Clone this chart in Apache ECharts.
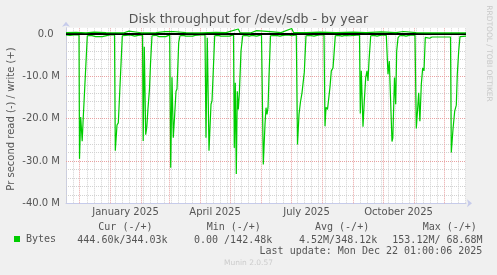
<!DOCTYPE html>
<html><head><meta charset="utf-8">
<script src="https://cdn.jsdelivr.net/npm/echarts@6/dist/echarts.min.js"></script>
<style>html,body{margin:0;padding:0;background:#f0f0f0;}#c{width:497px;height:275px;}</style>
</head><body><div id="c"></div>
<script>
// ---- data (x = day offset from graph start, y = MB/s; read negative, write positive)
const readPoints = [
[0,-0.2],[4,-0.3],[8,-0.2],[13,-0.2],
[13.5,-29.5],[14.7,-19.6],[16.2,-25.3],[17,-21],[21.3,-0.4],
[25,-0.3],[29.7,-0.6],[31,-0.3],[36.3,-0.6],[38,-0.3],[44,-0.2],[48.5,-0.2],
[49.3,-27.6],[51,-21.5],[52.3,-21],[56.3,-0.4],
[60,-0.3],[64,-0.2],[68.7,-0.5],[72,-0.3],[76.5,-0.2],
[77.2,-25.3],[78.3,-3],[79.7,-23.8],[80.8,-22],[82,-17.5],[83.5,-13],[84.5,-7],[86,-0.4],
[90,-0.3],[93,-0.6],[95,-0.3],[99.7,-0.6],[101,-0.3],[103.7,-0.2],
[104.7,-31.6],[106,-10.2],[107.3,-24.5],[108.7,-19],[110,-13.5],[111,-13],[112.7,-2],[114,-0.4],
[117,-0.3],[120,-0.5],[122,-0.3],[126.7,-0.5],[129,-0.3],[135,-0.2],[139,-0.2],
[140,-24.5],[141.3,-0.9],[143,-27.6],[145,-16.6],[146,-15.8],[147,-10.3],[148.7,-0.4],
[152,-0.3],[155,-0.5],[157,-0.3],[163.3,-0.5],[165,-0.3],[167.5,-0.2],
[168.3,-26.9],[169.3,-11.5],[170.3,-33.1],[171.3,-13.5],[172.3,-17.8],[173.3,-14.3],[175,-4],[176.7,-0.4],
[180,-0.3],[183.3,-0.5],[186,-0.3],[190.7,-0.5],[192,-0.3],[195.5,-0.2],
[197.3,-30.8],[199,-21.3],[200,-17.4],[201,-19],[202,-17.4],[203,-10],[204.5,-0.4],
[210,-0.3],[214,-0.5],[217,-0.3],[222,-0.2],[226,-0.4],[230.3,-0.2],
[231.5,-26.1],[233,-19],[234.5,-16],[236,-13.9],[237,-14],[238.3,-9],[240,-0.4],
[244,-0.3],[248,-0.5],[251,-0.3],[254,-0.2],[258,-0.2],
[259,-21.8],[260,-17.3],[261.5,-17.8],[262.7,-17.4],[264,-12.5],[265.3,-8.7],[267,-8],[268,-4.8],[269.3,-0.4],
[273,-0.3],[276,-0.5],[279,-0.3],[284,-0.4],[288,-0.3],[293.5,-0.2],
[294.3,-18.8],[295.3,-8.7],[297,-21.9],[298.3,-15.8],[299.7,-10.3],[301,-8.7],[302,-11.1],[303,-6.4],[304.7,-0.4],
[308,-0.3],[311,-0.5],[314,-0.3],[317,-0.2],[320.3,-0.3],
[322,-9.5],[323.3,-6.4],[326,-25.4],[326.8,-24.6],[328.5,-10.3],[329.7,-16.6],[330.7,-4],[332,-0.9],[333.5,-0.4],
[337,-0.3],[340,-0.5],[343,-0.3],[346,-0.2],[349,-0.3],
[350.3,-22.3],[351.3,-22.5],[352.7,-13.9],[353.9,-20.6],[355.3,-11.9],[356.7,-8],[358,-8.7],[359.3,-0.8],
[363.7,-1.0],[366,-0.7],[372,-0.7],[378,-0.7],[384.5,-0.7],
[385.3,-28],[387,-22.5],[388.7,-18.2],[390.3,-16.8],[391.3,-9.5],[392.7,-4],[394,-0.6],[400,-0.5]
];
const writePoints = [
[0,0.35],[10,0.4],[20,0.3],[28,0.45],[40,0.35],[58,0.3],[63,0.7],[65,0.35],[75,0.3],[90,0.35],
[99,0.55],[101,0.35],[107,0.6],[109,0.35],[120,0.35],[135,0.3],[150,0.4],[160,0.35],[172.3,1.2],[174,0.35],
[185,0.3],[190.7,0.8],[192.5,0.35],[207,0.5],[215,0.35],[225.7,1.3],[227.5,0.35],[240,0.35],[254,0.45],[270,0.35],
[287,0.45],[300,0.35],[315,0.5],[330,0.35],[337.3,0.6],[339,0.35],[350,0.35],[360,0.3],[380,0.3],[400,0.3]
];
const yMajorTicks = [0, -10, -20, -30, -40];
const yMinorTicks = [-2,-4,-6,-8,-12,-14,-16,-18,-22,-24,-26,-28,-32,-34,-36,-38];
const monthStarts = ['2024-12-01','2025-01-01','2025-02-01','2025-03-01','2025-04-01','2025-05-01','2025-06-01',
  '2025-07-01','2025-08-01','2025-09-01','2025-10-01','2025-11-01','2025-12-01'];
const labelMonths = [['2025-01-01','2025-02-01'],['2025-04-01','2025-05-01'],['2025-07-01','2025-08-01'],['2025-10-01','2025-11-01']];
const labelTexts = ['January 2025','April 2025','July 2025','October 2025'];
const legendHeader = ['Cur (-/+)','Min (-/+)','Avg (-/+)','Max (-/+)'];
const legendValues = ['444.60k/344.03k','0.00 /142.48k','4.52M/348.12k','153.12M/ 68.68M'];
const lastUpdate = 'Last update: Mon Dec 22 01:00:06 2025';

const startTime = Date.UTC(2024,10,17,23);
const DAY = 86400000;
const dayOf = s => (Date.parse(s + 'T00:00:00Z') - startTime) / DAY;
const monthDays = monthStarts.map(dayOf);
const labelPos = labelMonths.map(p => (dayOf(p[0]) + dayOf(p[1])) / 2);
const weekDays = [];
for (let t = Date.UTC(2024,10,18); t < Date.UTC(2025,11,23); t += 7*DAY) {
  const d = (t - startTime)/DAY;
  if (d > 0 && d < 400 && !monthDays.some(m => Math.abs(m - d) < 1.5)) weekDays.push(d);
}

const MINOR = '#d2d2d2', MAJOR = '#e8a2a2', AXIS = '#c6cbeb', TXT = '#555';
const gridLines = [];
weekDays.forEach(d => gridLines.push({xAxis: d, lineStyle:{color:MINOR, type:[1,1], width:1}}));
yMinorTicks.forEach(v => gridLines.push({yAxis: v, lineStyle:{color:MINOR, type:[1,1], width:1}}));
monthDays.forEach(d => gridLines.push({xAxis: d, lineStyle:{color:MAJOR, type:[1,1], width:1}}));
yMajorTicks.filter(v => v !== 0 && v !== -40).forEach(v => gridLines.push({yAxis: v, lineStyle:{color:MAJOR, type:[1,1], width:1}}));

const chart = echarts.init(document.getElementById('c'), null, {renderer:'canvas'});
const mono = '"DejaVu Sans Mono", monospace';
const sans = '"DejaVu Sans", sans-serif';
const colX = [98.3, 206.7, 315, 422.7];
const valX = [77.3, 194, 299, 392.3];
const graphics = [
  {type:'text', x:248.5, y:20, style:{text:'Disk throughput for /dev/sdb - by year', font:'12.5px '+sans, fill:TXT, textAlign:'center', textVerticalAlign:'middle'}},
  {type:'text', x:11, y:119, rotation:Math.PI/2, style:{text:'Pr second read (-) / write (+)', font:'10px '+sans, fill:TXT, textAlign:'center', textVerticalAlign:'middle'}},
  {type:'text', x:488.5, y:53.5, rotation:-Math.PI/2, style:{text:'RRDTOOL / TOBI OETIKER', font:'7.5px '+sans, fill:'#c8c8c8', textAlign:'center', textVerticalAlign:'middle'}},
  {type:'text', x:497/2, y:263.5, style:{text:'Munin 2.0.57', font:'7.5px '+sans, fill:'#cccccc', textAlign:'center', textVerticalAlign:'middle'}},
  {type:'text', x:482.3, y:251.5, style:{text:lastUpdate, font:'10px '+mono, fill:TXT, textAlign:'right', textVerticalAlign:'middle'}}
];
legendHeader.forEach((t,i)=>graphics.push({type:'text', x:colX[i], y:227.5, style:{text:t, font:'10px '+mono, fill:TXT, textAlign:'left', textVerticalAlign:'middle'}}));
legendValues.forEach((t,i)=>graphics.push({type:'text', x:valX[i], y:240, style:{text:t, font:'10px '+mono, fill:TXT, textAlign:'left', textVerticalAlign:'middle'}}));

chart.setOption({
  animation:false,
  backgroundColor:'#f0f0f0',
  grid:{left:66, top:27.7, width:400, height:175.6, show:true, backgroundColor:'#ffffff', borderWidth:0, outerBoundsMode:'none'},
  legend:{data:['Bytes'], left:14, top:234, icon:'rect', itemWidth:6, itemHeight:6, itemGap:5,
    textStyle:{fontFamily:mono, fontSize:10, color:TXT, padding:[0,0,0,1]}, padding:0, selectedMode:false},
  xAxis:{type:'value', min:0, max:400, splitLine:{show:false}, axisTick:{show:false},
    axisLine:{onZero:false, lineStyle:{color:AXIS, width:1}, symbol:['none','arrow'], symbolSize:[6,5], symbolOffset:[0,6]},
    axisLabel:{customValues:labelPos, margin:4, fontFamily:sans, fontSize:10, color:TXT,
      formatter:v=>{const i=labelPos.findIndex(p=>Math.abs(p-v)<0.01);return i>=0?labelTexts[i]:'';}}},
  yAxis:{type:'value', min:-40, max:1.5, splitLine:{show:false}, axisTick:{show:false},
    axisLine:{show:true, onZero:false, lineStyle:{color:AXIS, width:1}, symbol:['none','arrow'], symbolSize:[6,5], symbolOffset:[0,6]},
    axisLabel:{customValues:yMajorTicks, margin:6, fontFamily:sans, fontSize:10, color:TXT,
      formatter:v=> v===0 ? '0.0  ' : (v.toFixed(1)+' M')}},
  graphic:graphics,
  series:[
    {type:'line', name:'grid', data:[], z:1, silent:true,
      markLine:{z:1, silent:true, symbol:'none', label:{show:false}, animation:false, data:gridLines}},
    {type:'line', name:'Bytes', data:readPoints, z:2, showSymbol:false, symbol:'none', color:'#00cc00',
      lineStyle:{color:'#00cc00', width:1.2}, silent:true},
    {type:'line', name:'zero', data:[], z:3, silent:true,
      markLine:{z:3, silent:true, symbol:'none', label:{show:false}, animation:false,
        data:[{yAxis:0, lineStyle:{color:'#000', type:'solid', width:2}}]}},
    {type:'line', name:'Bytes', data:writePoints, z:4, showSymbol:false, symbol:'none', color:'#00cc00',
      lineStyle:{color:'#00cc00', width:1.2}, silent:true}
  ]
});
</script></body></html>
